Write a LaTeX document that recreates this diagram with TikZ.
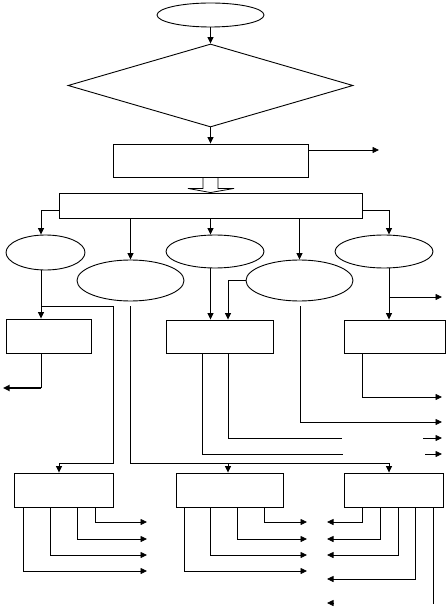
\documentclass[tikz,border=0pt]{standalone}
\usetikzlibrary{shapes.geometric,arrows.meta,calc}
\begin{document}
\begin{tikzpicture}[x=1pt,y=-1pt,line width=0.8pt,
  box/.style={draw,rectangle,inner sep=0pt,line width=0.9pt},
  oval/.style={draw,ellipse,inner sep=0pt,line width=0.9pt},
  arr/.style={-{Triangle[length=6.5pt,width=6pt]}}]
\useasboundingbox (0,0) rectangle (446,609);
% nodes
\node[oval,minimum width=107pt,minimum height=24pt] (s) at (210.5,15) {};
\node[draw,diamond,inner sep=0pt,line width=0.9pt,minimum width=285pt,minimum height=83pt] (d) at (210.5,85.5) {};
\node[box,minimum width=195pt,minimum height=33pt] (r0) at (210.5,160.5) {};
\node[box,minimum width=303pt,minimum height=25pt] (R) at (210.5,205.5) {};
\node[oval,minimum width=79pt,minimum height=35pt] (E1) at (45.5,252.5) {};
\node[oval,minimum width=107pt,minimum height=41pt] (E2) at (130.5,280.5) {};
\node[oval,minimum width=98pt,minimum height=33pt] (E3) at (215,251.5) {};
\node[oval,minimum width=107pt,minimum height=41pt] (E4) at (299.5,280.5) {};
\node[oval,minimum width=98pt,minimum height=33pt] (E5) at (384,251.5) {};
\node[box,minimum width=85pt,minimum height=34pt] (A1) at (48.5,336) {};
\node[box,minimum width=107pt,minimum height=33pt] (A2) at (219.5,336.5) {};
\node[box,minimum width=101pt,minimum height=33pt] (A3) at (394.5,336.5) {};
\node[box,minimum width=99pt,minimum height=34pt] (BA) at (63.5,490) {};
\node[box,minimum width=107pt,minimum height=34pt] (BB) at (229.5,490) {};
\node[box,minimum width=99pt,minimum height=34pt] (BC) at (393.5,490) {};
% coordinates
\coordinate (o1) at (379,150);
\coordinate (j1) at (41,306);
\coordinate (k2) at (113,463);
\coordinate (m1) at (130,306);
\coordinate (m2) at (130,463);
\coordinate (m3) at (228,463);
\coordinate (q) at (389,297);
\coordinate (q2) at (442,297);
\coordinate (u1) at (300,306);
\coordinate (u2) at (442,422);
\coordinate (v0) at (41,388);
\coordinate (v) at (3,388);
\coordinate (w0) at (202,454);
\coordinate (w1) at (343,454);
\coordinate (w2) at (425,454);
\coordinate (w3) at (442,454);
\coordinate (x0) at (228,438);
\coordinate (x1) at (342,438);
\coordinate (x2) at (423,438);
\coordinate (x3) at (442,438);
\coordinate (y0) at (362,397);
\coordinate (y1) at (442,397);
\coordinate (ba1) at (147,522);
\coordinate (ba2) at (147,539);
\coordinate (ba3) at (147,555);
\coordinate (ba4) at (147,571);
\coordinate (bb1) at (307,522);
\coordinate (bb2) at (307,539);
\coordinate (bb3) at (307,555);
\coordinate (bb4) at (307,571);
\coordinate (bc1) at (327,522);
\coordinate (bc2) at (327,539);
\coordinate (bc3) at (327,555);
\coordinate (bc4) at (327,579);
\coordinate (bc5) at (433,604);
\coordinate (bc6a) at (334,603);
\coordinate (bc6) at (327,603);
% top chain
\draw[arr] (s) -- (d);
\draw[arr] (d) -- (r0);
\draw[arr] (r0.east |- o1) -- (o1);
\draw ($(r0.south)+(-7.5,0)$) -- ++(0,11) -- ++(-15,0) -- (R.north)
  -- ($(r0.south)+(23.5,11)$) -- ++(-16,0) -- ($(r0.south)+(7.5,0)$);
% from big rectangle
\draw[arr] ($(R.west)+(0,4.5)$) -| ($(E1.north)+(-4.5,0)$);
\draw[arr] ($(R.east)+(0,4.5)$) -| (E5.north -| q);
\draw[arr] (R.south -| E2.north) -- (E2.north);
\draw[arr] (R.south) -- (R.south |- E3.north);
\draw[arr] (R.south -| E4.north) -- (E4.north);
% ellipses down
\draw[arr] ($(E1.south)+(-4.5,0)$) -- ($(A1.north)+(-7.5,0)$);
\draw[arr] (j1) -| (k2) -| ($(BA.north)+(-4.5,0)$);
\draw[arr] (m1) -- (m2) -| ($(BC.north)+(-4.5,0)$);
\draw[arr] (m3) -- (m3 |- BB.north);
\draw[arr] (E3.south -| R.south) -- (A2.north -| R.south);
\draw[arr] (E4.west) -| (A2.north -| m3);
\draw[arr] (u1) |- (u2);
\draw[arr] (E5.south -| q) -- (A3.north -| q);
\draw[arr] (q) -- (q2);
% middle row outputs
\draw (A1.south -| v0) -- (v0);
\draw[arr,line width=1.6pt] (v0) -- (v);
\draw (A2.south -| w0) |- (w1);
\draw[arr] (w2) -- (w3);
\draw (A2.south -| x0) |- (x1);
\draw[arr] (x2) -- (x3);
\draw[arr] (A3.south -| y0) |- (y1);
% bottom row outputs
\draw[arr] ($(BA.south)+(31.5,0)$) |- (ba1);
\draw[arr] ($(BA.south)+(13.5,0)$) |- (ba2);
\draw[arr] ($(BA.south)+(-13.5,0)$) |- (ba3);
\draw[arr] ($(BA.south)+(-40.5,0)$) |- (ba4);
\draw[arr] ($(BB.south)+(34.5,0)$) |- (bb1);
\draw[arr] ($(BB.south)+(7.5,0)$) |- (bb2);
\draw[arr] ($(BB.south)+(-19.5,0)$) |- (bb3);
\draw[arr] ($(BB.south)+(-45.5,0)$) |- (bb4);
\draw[arr] ($(BC.south)+(-31.5,0)$) |- (bc1);
\draw[arr] ($(BC.south)+(-13.5,0)$) |- (bc2);
\draw[arr] ($(BC.south)+(4.5,0)$) |- (bc3);
\draw[arr] ($(BC.south)+(21.5,0)$) |- (bc4);
\draw ($(BC.south)+(39.5,0)$) -- (bc5);
\draw[arr] (bc6a) -- (bc6);
\end{tikzpicture}
\end{document}
